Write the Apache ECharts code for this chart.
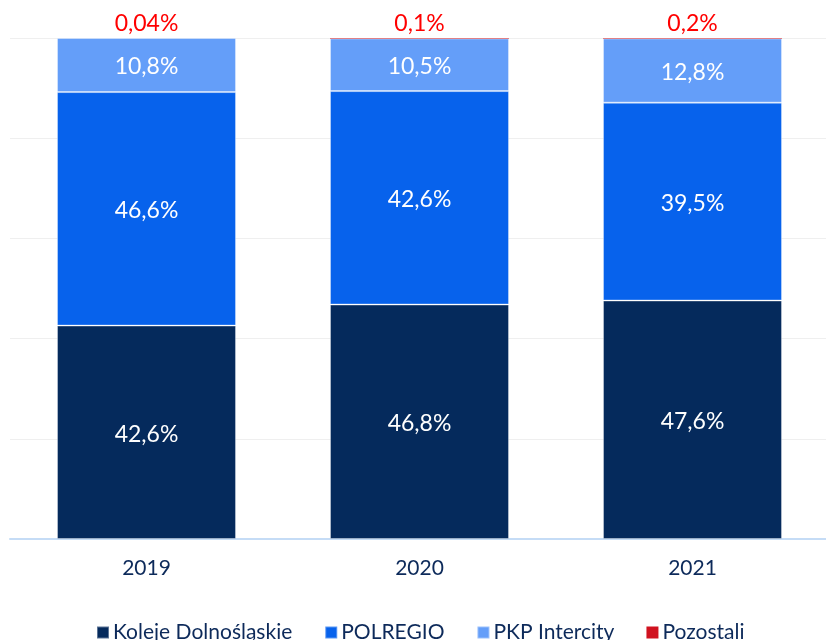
<!DOCTYPE html>
<html><head><meta charset="utf-8">
<script src="https://cdn.jsdelivr.net/npm/echarts@6/dist/echarts.min.js"></script>
<style>html,body{margin:0;padding:0;background:#fff}#c{width:826px;height:640px}</style>
</head><body><div id="c"></div>
<script>
const years = ['2019', '2020', '2021'];
const kolejeDolnoslaskie = [42.6, 46.8, 47.6];
const polregio = [46.6, 42.6, 39.5];
const pkpIntercity = [10.8, 10.5, 12.8];
const pozostali = [0.04, 0.1, 0.2];
const pozostaliLabels = ['0,04%', '0,1%', '0,2%'];

const fmt = v => String(v).replace('.', ',') + '%';
const font = 'Lato, "Noto Sans", sans-serif';

const chart = echarts.init(document.getElementById('c'));
const innerLabel = {show: true, position: 'inside', color: '#ffffff', fontSize: 23, fontFamily: font,
  offset: [0, 2], formatter: p => fmt(p.value)};
const border = {borderColor: 'rgba(255,255,255,0.35)', borderWidth: 1};
chart.setOption({
  animation: false,
  textStyle: {fontFamily: font},
  grid: {left: 10, right: -3, top: 38, bottom: 101, outerBoundsMode: 'none', containLabel: false},
  legend: {
    left: 91, top: 617, itemWidth: 12, itemHeight: 12, itemGap: 32,
    icon: 'rect',
    textStyle: {fontSize: 21, color: '#0d2a5a', fontFamily: font, padding: [0, 0, 0, -1]},
    data: ['Koleje Dolnośląskie', 'POLREGIO', 'PKP Intercity', 'Pozostali']
  },
  xAxis: {
    type: 'category', data: years,
    axisLine: {lineStyle: {color: '#c5dcf6', width: 2}},
    axisTick: {show: false},
    axisLabel: {fontSize: 21, color: '#0d2a5a', margin: 19, fontFamily: font}
  },
  yAxis: {
    type: 'value', min: 0, max: 100, interval: 20,
    axisLabel: {show: false}, axisLine: {show: false}, axisTick: {show: false},
    splitLine: {lineStyle: {color: '#efefef', width: 1}}
  },
  series: [
    {name: 'Koleje Dolnośląskie', type: 'bar', stack: 's', barWidth: 179, data: kolejeDolnoslaskie,
      itemStyle: Object.assign({color: '#052a5c'}, border), label: innerLabel},
    {name: 'POLREGIO', type: 'bar', stack: 's', data: polregio,
      itemStyle: Object.assign({color: '#0762ec'}, border), label: innerLabel},
    {name: 'PKP Intercity', type: 'bar', stack: 's', data: pkpIntercity,
      itemStyle: Object.assign({color: '#649ef9'}, border), label: innerLabel},
    {name: 'Pozostali', type: 'bar', stack: 's', data: pozostali,
      itemStyle: {color: '#d0121f'},
      label: {show: true, position: 'top', color: '#ff0000', fontSize: 23, fontFamily: font, distance: 3,
        formatter: p => pozostaliLabels[p.dataIndex]}}
  ]
});
</script></body></html>
